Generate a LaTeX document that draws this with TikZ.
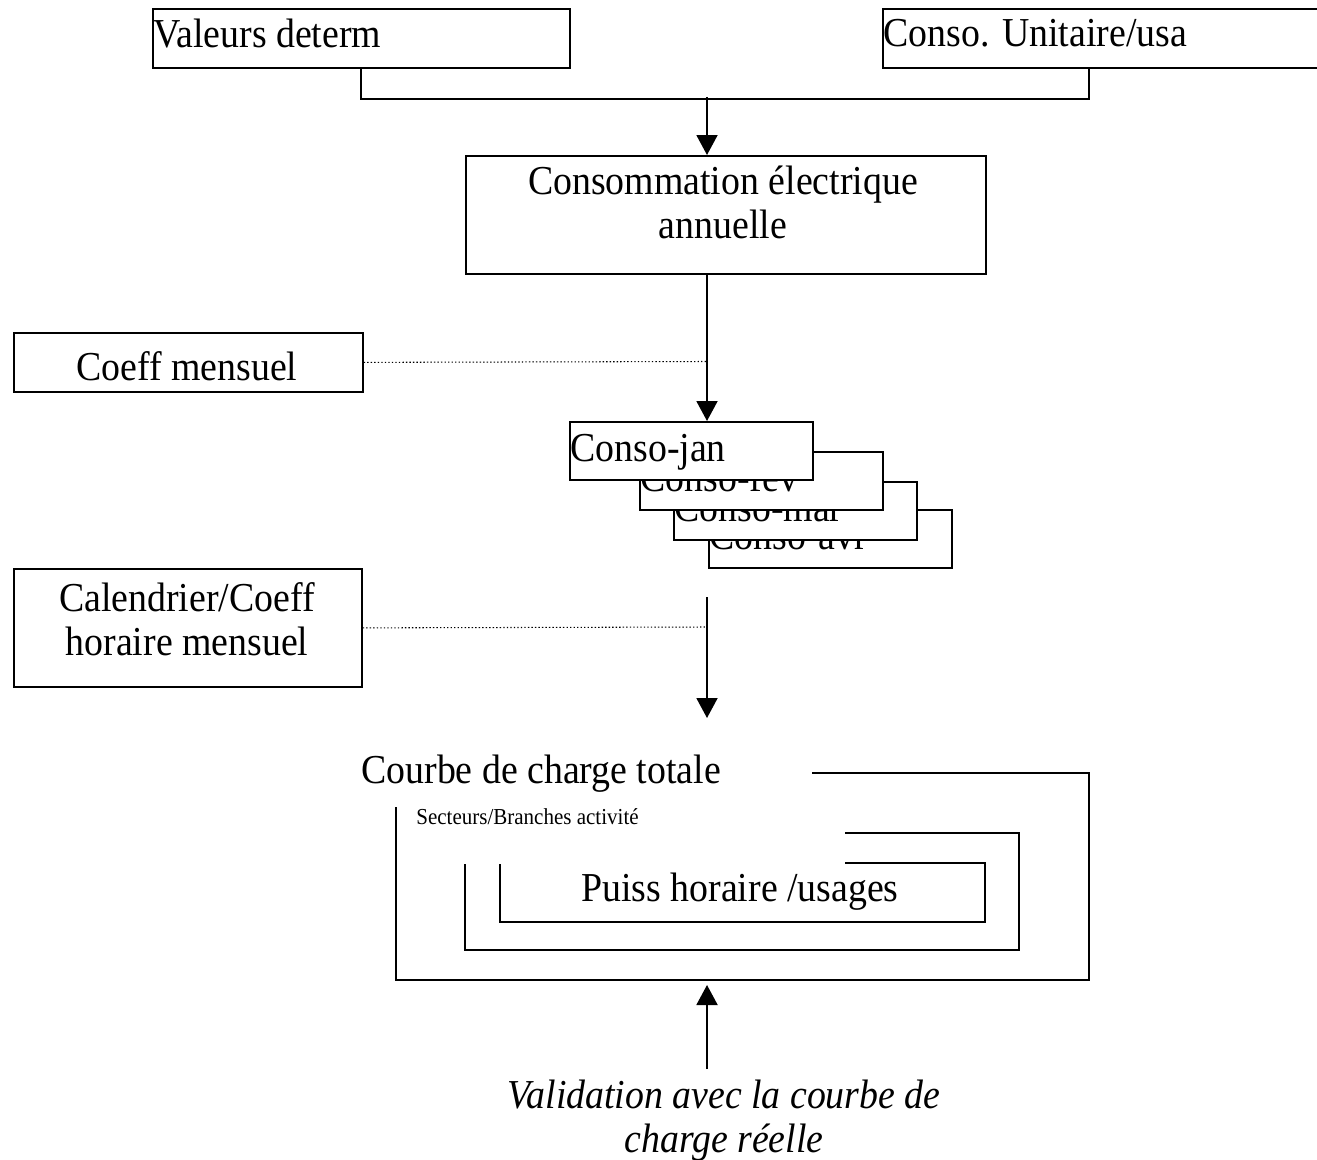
\documentclass[tikz,border=0pt]{standalone}
\usepackage{fontspec}
\setmainfont{Liberation Serif}[FakeStretch=0.92]
\usetikzlibrary{arrows.meta,calc}
\tikzset{
  box/.style={draw, line width=1pt, inner sep=0pt, anchor=north west, fill=white},
  txt/.style={inner sep=0pt, font=\fontsize{23.4}{25}\selectfont},
  smalltxt/.style={inner sep=0pt, font=\fontsize{13}{15}\selectfont},
  ln/.style={line width=1.1pt},
  arr/.style={line width=1.1pt, -{Triangle[length=0.4cm,width=0.42cm]}},
  dots/.style={line width=0.6pt, dash pattern=on 0.8pt off 1.2pt},
}
\begin{document}
\begin{tikzpicture}[x=0.02cm,y=-0.02cm]
\useasboundingbox (0,0) rectangle (1317,1159);

% top boxes
\node[box, minimum width=8.34cm, minimum height=1.18cm] (b1) at (152,8) {};
\node[txt, anchor=base west] (t1) at (153,48) {Valeurs determ};
\node[box, minimum width=9.0cm, minimum height=1.18cm] (b2) at (882,8) {};
\node[txt, anchor=base west] (t2) at (883,47) {Conso. Unitaire/usa};

% annual consumption box
\node[box, minimum width=10.4cm, minimum height=2.36cm] (b3) at (465,155) {};
\node[txt, align=center, anchor=base] (t3) at (723,238) {Consommation électrique\\annuelle};

% bracket
\coordinate (jl) at ($(b1.south)+(0,30)$);
\coordinate (br2) at ($(b2.south west)+(207,0)$);
\coordinate (jr) at ($(br2)+(0,30)$);
\coordinate (jm) at (707,97);
\draw[ln] (b1.south) -- (jl) -- (jr) -- (br2);
\draw[arr] (jm) -- (jm |- b3.north);

% coeff mensuel
\node[box, minimum width=6.98cm, minimum height=1.18cm] (cm) at (13,332) {};
\node[txt, anchor=base] (tcm) at (187,380) {Coeff mensuel};

% monthly stack
\node[box, minimum width=4.86cm, minimum height=1.16cm] (avr) at (708,509) {};
\node[txt, anchor=base west] (tavr) at (709,549) {Conso-avr};
\node[box, minimum width=4.86cm, minimum height=1.16cm] (mar) at (673,481) {};
\node[txt, anchor=base west] (tmar) at (674,521) {Conso-mar};
\node[box, minimum width=4.86cm, minimum height=1.16cm] (fev) at (639,451) {};
\node[txt, anchor=base west] (tfev) at (640,491) {Conso-fev};
\node[box, minimum width=4.86cm, minimum height=1.16cm] (jan) at (569,421) {};
\node[txt, anchor=base west] (tjan) at (570,461) {Conso-jan};

\draw[arr] (jm |- b3.south) -- (jm |- jan.north);
\coordinate (dm) at (707,361.5);
\draw[dots] (cm.east) -- (dm);

% calendrier
\node[box, minimum width=6.96cm, minimum height=2.36cm] (cal) at (13,568) {};
\node[txt, align=center, anchor=base] (tcal) at (187,655) {Calendrier/Coeff\\horaire mensuel};
\coordinate (dc) at (707,627);
\draw[dots] (cal.east) -- (dc);
\coordinate (a3s) at (707,597);
\coordinate (a3e) at (707,718);
\draw[arr] (a3s) -- (a3e);

% load curve frames
\node[txt, anchor=base west] (ct) at (361,783) {Courbe de charge totale};
\draw[ln] (812,773) -| (1089,980) -| (396,807);
\node[smalltxt, anchor=base west] (st) at (416,824) {Secteurs/Branches activité};
\draw[ln] (845,833) -| (1019,950) -| (465,864);
\draw[ln] (845,863) -| (985,922) -| (500,864);
\node[txt, anchor=base] (pt) at (740,901) {Puiss horaire /usages};

% validation
\coordinate (vb) at (707,1069);
\coordinate (vt) at (707,985);
\draw[arr] (vb) -- (vt);
\node[txt, font=\fontsize{23.4}{25}\selectfont\itshape, align=center, anchor=base] (val) at (724,1152) {Validation avec la courbe de\\charge réelle};
\end{tikzpicture}
\end{document}
